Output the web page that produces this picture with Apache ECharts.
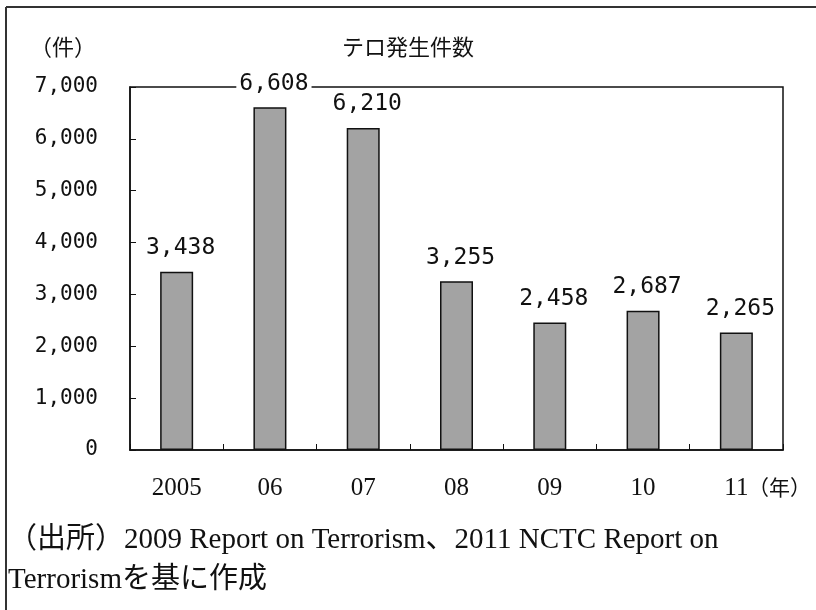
<!DOCTYPE html>
<html><head><meta charset="utf-8">
<script src="https://cdn.jsdelivr.net/npm/echarts@6/dist/echarts.min.js"></script>
<style>html,body{margin:0;padding:0;background:#fff}#c{width:816px;height:610px}</style>
</head><body><div id="c"></div>
<script>
const categories = ['2005', '06', '07', '08', '09', '10', '11'];
const values = [3438, 6608, 6210, 3255, 2458, 2687, 2265];
const yTicks = [0, 1000, 2000, 3000, 4000, 5000, 6000, 7000];
const titleText = 'テロ発生件数';
const yUnit = '（件）';
const xUnit = '（年）';
const sourceLine1 = '（出所）2009 Report on Terrorism、2011 NCTC Report on';
const sourceLine2 = 'Terrorismを基に作成';

const fmt = v => v.toLocaleString('en-US');
const chart = echarts.init(document.getElementById('c'), null, {renderer: 'canvas'});
const gothic = '"DejaVu Sans Mono", "Noto Sans CJK JP", monospace';
const serif = '"Liberation Serif", "Noto Sans CJK JP", serif';
chart.setOption({
  backgroundColor: '#fff',
  animation: false,
  title: {
    text: titleText, left: 403, top: 31, textAlign: 'center',
    textStyle: {fontFamily: '"Noto Sans CJK JP"', fontSize: 22, fontWeight: 'normal', color: '#111'}
  },
  grid: {left: 130, right: 33, top: 87, bottom: 160, show: true, borderColor: '#111', borderWidth: 1.5, backgroundColor: 'transparent'},
  xAxis: {
    type: 'category', data: categories,
    axisLine: {lineStyle: {color: '#111', width: 1.5}},
    axisTick: {show: true, inside: true, length: 6, lineStyle: {color: '#111'}},
    axisLabel: {margin: 26, fontFamily: serif, fontSize: 25, color: '#111'}
  },
  yAxis: {
    type: 'value', min: yTicks[0], max: yTicks[yTicks.length - 1], interval: 1000,
    axisLine: {show: true, lineStyle: {color: '#111', width: 1.5}},
    axisTick: {show: true, inside: true, length: 6, lineStyle: {color: '#111'}},
    splitLine: {show: false},
    axisLabel: {margin: 32, fontFamily: gothic, fontSize: 21, color: '#111', formatter: v => fmt(v)}
  },
  series: [{
    type: 'bar', data: values, barWidth: 33,
    itemStyle: {color: '#a3a3a3', borderColor: '#111', borderWidth: 1.5},
    label: {
      show: true, position: 'top', distance: 10, offset: [4, 0],
      fontFamily: gothic, fontSize: 23, color: '#111',
      backgroundColor: '#fff', padding: [2, 3],
      formatter: p => fmt(p.value)
    }
  }],
  graphic: [
    {type: 'line', shape: {x1: 6, y1: 7, x2: 816, y2: 7}, style: {stroke: '#333', lineWidth: 2}},
    {type: 'line', shape: {x1: 6, y1: 7, x2: 6, y2: 610}, style: {stroke: '#333', lineWidth: 2}},
    {type: 'text', left: 30, top: 36, style: {text: yUnit, fontFamily: '"Noto Sans CJK JP"', fontSize: 22, fill: '#111'}},
    {type: 'text', left: 748, top: 477, style: {text: xUnit, fontFamily: '"Noto Sans CJK JP"', fontSize: 21, fill: '#111'}},
    {type: 'text', left: 8, top: 526, style: {text: sourceLine1, fontFamily: serif, fontSize: 29, fill: '#111'}},
    {type: 'text', left: 8, top: 566, style: {text: sourceLine2, fontFamily: serif, fontSize: 29, fill: '#111'}}
  ]
});
</script></body></html>
